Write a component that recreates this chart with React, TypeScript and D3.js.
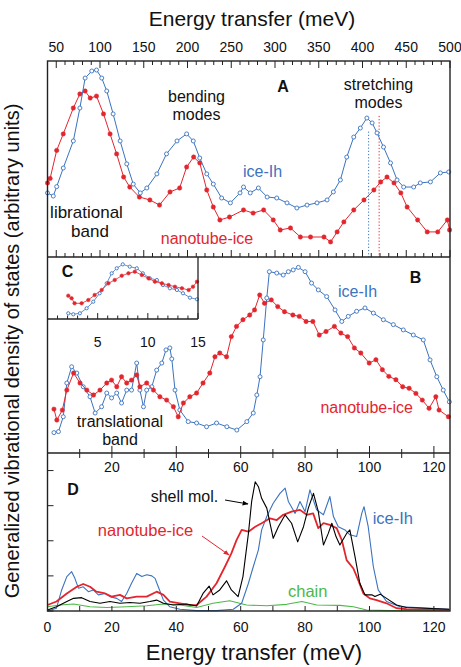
import React from "react";
import * as d3 from "d3";

// ---------- DATA ----------
// Panel A (top axis, 40-500 meV)
const aIceE = [40,46.6,50.5,58,69.5,77,83,90.6,96,102,107.7,115,123,130.6,138,146,153.5,165,176,188,199,206.6,214,222,229.5,239,249,260,264,271.7,281,291,302,313.7,325,336.6,348,359.5,366.7,374.7,382,390,397.5,405,411,416.6,424,432,439.5,447,458.5,466,477.6,489,498.6];
const aIceV = [3.27,3.11,3.59,4.54,5.92,7.6,9.13,9.49,9.54,9.13,8.47,7.3,5.92,4.75,3.72,3.27,3.52,4.24,5.26,5.92,6.28,5.92,5.05,4.24,3.72,3.01,2.76,3.27,3.57,3.27,3.52,3.06,3.01,2.76,2.5,2.65,2.76,2.91,3.32,3.93,5.1,6.12,6.58,7.09,6.84,6.33,5.61,4.8,3.93,3.57,3.57,3.78,3.83,4.29,4.34];
const aNanoE = [40,43,50.5,58,69.5,77,83,88.8,96,104,111.5,119,127,134,145,157,168,180,191,199,207,214,222,229.5,237,248,264,275,287,298,306,317.7,329,340.6,356,363.5,371,378.7,390,401.7,413,420.8,428,436,443.8,451,463,474,486,497,499.5];
const aNanoV = [3.78,4.01,5.44,6.28,7.6,8.32,8.47,8.11,8.21,7.3,6.28,5.26,4.08,3.57,3.06,2.91,2.65,3.32,3.52,4.59,5.1,4.8,3.42,2.55,1.89,2.04,2.4,2.24,2.4,1.89,1.38,1.48,1.02,1.02,1.02,0.77,1.28,1.79,2.4,2.91,3.42,3.83,4.08,3.78,3.27,2.55,1.89,1.28,1.28,1.89,1.38];
const peakE = [407, 419];
const peakV = [6.4, 7.2];

// Panel B (0-125 meV)
const bIceE = [2,3.4,4.9,6,7.5,9.1,11.1,13.2,14.8,16.8,18.4,19.9,21.5,23,24.6,26.1,27.7,28.7,29.8,30.8,32.4,33.9,35.5,36.8,38,38.6,39.6,41.1,43.7,46.3,49.4,52.5,55.7,58.8,61.9,63.9,65,66,67,68.1,68.9,71.2,73.2,74.8,76.3,77.9,80,82,84.1,86.7,89.3,91.4,93.4,96,98.6,101.2,104.3,107.4,110.5,113.6,116.7,118.8,120.9,122.9,124.8];
const bIceV = [1.04,1.09,1.85,3.57,4.4,4.08,3.38,2.87,2.04,2.36,3.06,2.81,3.06,2.55,3.21,3.21,4.59,3.21,2.36,3.21,3.38,4.23,4.59,5.26,5.36,4.8,3.21,2.19,1.6,1.53,1.34,1.53,1.34,1.17,1.6,2.04,2.96,3.89,5.77,7.91,9.25,9.18,9.08,9.25,9.34,9.47,9.25,8.67,8.32,7.98,7.3,6.71,6.97,7.23,7.4,7.14,6.8,6.55,6.28,6.02,5.77,4.75,3.89,3.21,2.61];
const bNanoE = [2,2.9,4.6,6,8.1,10.1,12.2,14.3,16.3,18.4,19.9,21.5,23,24.6,26.1,27.7,28.7,30.8,32.9,34.9,37,39.1,40.6,42.2,44.2,46.3,48.3,50.4,52,53.5,55.6,57.1,58.7,60.7,62.8,64.3,65.9,67.4,69.5,71.5,73.6,76.2,78.2,80.3,82.4,84.4,86.5,89.1,91.1,93.2,95.3,97.3,99.9,102,104,106,108.2,110.3,112.3,114.4,116.4,118.5,120.6,121.6,124.5];
const bNanoV = [2.24,1.68,2.19,3.21,4.08,3.57,3.21,2.96,3.21,3.57,3.72,3.38,3.89,3.57,3.72,3.98,3.38,3.57,3.21,2.87,2.7,2.36,1.85,2.55,2.87,3.06,3.57,4.08,4.91,5.1,4.91,5.94,6.46,6.8,7.04,7.3,8.06,7.64,7.81,7.47,7.21,7.04,6.97,6.71,6.71,6.02,6.2,6.46,6.12,5.94,5.36,5.1,4.59,4.76,4.25,3.91,3.74,3.38,3.3,3.04,2.7,2.28,2.87,2.19,1.85];

// Inset C (0-15 meV)
const cIceE = [2.07,2.57,3.23,3.9,4.56,5.2,5.9,6.4,6.9,7.5,8.2,8.9,9.5,10.2,10.9,11.5,12.2,12.9,13.5,14.2,14.9];
const cIceV = [0.92,0.76,0.92,1.73,2.79,4.15,5.76,7.37,8.18,8.82,8.44,8.18,7.37,6.56,6.29,5.48,4.95,4.68,4.15,3.44,3.18];
const cNanoE = [2.07,2.4,2.7,3.4,4.07,4.7,5.4,6.07,6.7,7.4,8.07,8.7,9.4,10.07,10.7,11.4,12.07,12.7,13.4,14.07,14.5,14.9];
const cNanoV = [3.76,3.34,2.53,2.53,3.06,3.87,4.68,5.76,6.29,6.98,7.37,7.63,7.1,6.56,6.02,5.76,5.48,5.21,4.95,4.68,5.21,6.02];

// Panel D (0-125 meV)
const dIceE = [0,2.8,4.4,6,7.5,8.5,9.6,11.1,12.7,14.2,15.8,17.9,19.4,21.5,23,24.6,26.1,27.7,29.3,30.8,32.4,33.4,34.4,36,38,41.1,46.3,52.5,57.7,60.3,62.4,63.9,65.5,66.5,68.1,70.1,72.2,73.8,74.8,76.9,78.4,80,81.5,83.6,85.7,87.7,88.8,90.3,92.4,93.9,96,97.6,98.3,99.6,101.2,102.7,105.3,109.5,114.7,124.8];
const dIceV = [0,0.08,0.6,0.98,1.12,0.93,0.65,0.69,0.55,0.6,0.46,0.5,0.41,0.36,0.27,0.5,0.79,1.07,0.98,1.03,1,0.93,0.69,0.31,0.12,0.05,0.01,0.01,0.05,0.22,0.79,1.26,1.74,2.31,2.69,3.07,3.35,3.5,3.12,2.78,3.12,2.83,3.45,2.88,2.74,3.26,2.69,2.4,2.31,2.17,2.12,2.78,2.97,2.4,1.26,0.6,0.27,0.12,0.1,0.05];
const dNanoE = [0,2.8,6,9.1,11.1,13.2,15.2,17.9,19.9,22.5,24.6,27.7,30.8,33.9,36,38,41.1,44.2,46.3,49.4,52.5,55.1,57.1,58.7,60.3,62.4,64.5,66.5,69.1,71.2,73.2,75.8,78.4,80.5,82.5,84.1,85.7,87.7,89.8,91.4,92.9,95,96.5,98.1,100.1,102.2,105.3,108.4,111.5,124.8];
const dNanoV = [0.17,0.27,0.5,0.69,0.77,0.69,0.55,0.5,0.41,0.46,0.36,0.41,0.41,0.55,0.46,0.27,0.22,0.17,0.17,0.41,0.79,1.26,1.64,2.02,2.31,2.26,2.4,2.5,2.64,2.59,2.74,2.83,2.88,2.74,2.78,2.36,2.5,2.45,2.36,2.02,1.45,1.21,0.88,0.5,0.36,0.31,0.22,0.08,0.05,0.03];
const dShellE = [0,2.8,6,8.1,10.6,13.2,16.3,19.4,22.5,25.6,28.7,31.8,33.9,36,39.1,43.2,46.3,48.3,50.2,51.4,53.5,55.6,57.1,59.2,60.7,62.4,63.4,64.5,65.5,66.5,68.1,70.1,71.7,73.8,75.8,77.7,79.5,81,82.6,84.1,85.7,87.2,88.3,89.6,90.8,92.9,93.9,95.5,97,98.6,100.7,101.7,103.3,105.3,108.4,111.5,124.8];
const dShellV = [0.03,0.12,0.27,0.36,0.38,0.27,0.22,0.27,0.22,0.24,0.22,0.27,0.31,0.22,0.17,0.2,0.14,0.5,0.71,0.46,0.6,0.86,0.6,0.41,0.98,2.21,3.12,3.68,3.54,3.21,2.93,2.07,2.4,2.74,2.5,1.97,2.4,2.93,3.35,2.83,1.88,2.21,2.5,2.12,1.88,2.21,2.31,1.55,0.79,0.46,0.46,0.41,0.48,0.36,0.17,0.1,0.05];
const dChainE = [0,3.9,8.1,13.2,18.4,24.6,30.8,36,41.1,46.3,51.4,56.6,61.8,68.1,74.3,79,83.6,90.8,95,99.1,106.3,124.8];
const dChainV = [0.12,0.17,0.2,0.12,0.1,0.12,0.15,0.2,0.17,0.1,0.22,0.29,0.17,0.15,0.19,0.27,0.17,0.16,0.12,0.03,0.01,0.01];

const topTicks = [50,100,150,200,250,300,350,400,450,500];
const bottomTicks = [0,20,40,60,80,100,120];
const insetTicks = [5,10,15];
const dYTicks = [0,1,2,3,4];

// ---------- STYLE ----------
const BLUE = "#3b73bf";
const RED = "#e3262e";
const GREEN = "#4db848";
const FONT = "'Liberation Sans', Arial, Helvetica, sans-serif";

const L = 47.5, R = 450;
const A_TOP = 61, A_BOT = 257, B_BOT = 453, D_BOT = 611;
const C_R = 198, C_BOT = 319;

const xTop = d3.scaleLinear().domain([40, 500]).range([L, R]);
const xBot = d3.scaleLinear().domain([0, 125]).range([L, R]);
const xC = d3.scaleLinear().domain([0, 15]).range([L, C_R]);
const yA = d3.scaleLinear().domain([0, 10]).range([A_BOT, A_TOP]);
const yB = d3.scaleLinear().domain([0, 10]).range([B_BOT, A_BOT]);
const yC = d3.scaleLinear().domain([0, 10]).range([C_BOT, A_BOT]);
const yD = d3.scaleLinear().domain([0, 4.5]).range([D_BOT, B_BOT]);

type Sc = d3.ScaleLinear<number, number>;
const zip = (e: number[], v: number[]) => e.map((x, i) => [x, v[i]] as [number, number]);

function Series({ e, v, xs, ys, color, marker, r = 2, sw = 1 }:
  { e: number[]; v: number[]; xs: Sc; ys: Sc; color: string; marker?: "open" | "filled"; r?: number; sw?: number }) {
  const pts = zip(e, v);
  const line = d3.line<[number, number]>().x(d => xs(d[0])).y(d => ys(d[1]));
  return (
    <g>
      <path d={line(pts) || ""} fill="none" stroke={color} strokeWidth={sw} strokeLinejoin="round" />
      {marker && pts.map((p, i) => (
        <circle key={i} cx={xs(p[0])} cy={ys(p[1])} r={r}
          fill={marker === "open" ? "#fff" : color} stroke={color} strokeWidth={marker === "open" ? 0.9 : 0.5} />
      ))}
    </g>
  );
}

function Ticks({ vals, xs, y, len, color = "#222" }: { vals: number[]; xs: Sc; y: number; len: number; color?: string }) {
  return <g>{vals.map((t, i) => <line key={i} x1={xs(t)} x2={xs(t)} y1={y} y2={y + len} stroke={color} strokeWidth={1} />)}</g>;
}

export default function App() {
  const minorTop = d3.range(40, 501, 10).filter(t => t % 50 !== 0);
  const minorBot = d3.range(10, 125, 20);
  const all10 = d3.range(10, 125, 10);
  const insetMinor = d3.range(1, 15, 1).filter(t => t % 5 !== 0);
  return (
    <svg width={461} height={667} style={{ position: "absolute", left: 0, top: 0, background: "#fff" }} fontFamily={FONT}>
      <rect x={0} y={0} width={461} height={667} fill="#fff" />
      {/* titles */}
      <text x={252} y={26} fontSize={21} textAnchor="middle" fill="#111">Energy transfer (meV)</text>
      <text x={254} y={660} fontSize={22} textAnchor="middle" fill="#111">Energy transfer (meV)</text>
      <text transform="translate(19,351) rotate(-90)" fontSize={20} textAnchor="middle" fill="#111">
        Generalized vibrational density of states (arbitrary units)
      </text>

      {/* top axis labels */}
      {topTicks.map(t => <text key={t} x={xTop(t)} y={52} fontSize={14} textAnchor="middle" fill="#111">{t}</text>)}
      <Ticks vals={topTicks} xs={xTop} y={A_TOP} len={7} />
      <Ticks vals={minorTop} xs={xTop} y={A_TOP} len={4} />
      <Ticks vals={topTicks} xs={xTop} y={A_BOT} len={-7} />
      <Ticks vals={minorTop} xs={xTop} y={A_BOT} len={-4} />

      {/* Panel A */}
      {peakE.map((p, i) => (
        <line key={i} x1={xTop(p)} x2={xTop(p)} y1={yA(peakV[i])} y2={A_BOT}
          stroke={i === 0 ? BLUE : RED} strokeWidth={1} strokeDasharray="1.2,2" />
      ))}
      <Series e={aNanoE} v={aNanoV} xs={xTop} ys={yA} color={RED} marker="filled" r={2.2} />
      <Series e={aIceE} v={aIceV} xs={xTop} ys={yA} color={BLUE} marker="open" r={2} />
      <text x={283} y={92} fontSize={16} fontWeight="bold" textAnchor="middle" fill="#111">A</text>
      <text x={196.5} y={102} fontSize={16} textAnchor="middle" fill="#111">bending</text>
      <text x={196.5} y={120} fontSize={16} textAnchor="middle" fill="#111">modes</text>
      <text x={378.5} y={90} fontSize={16} textAnchor="middle" fill="#111">stretching</text>
      <text x={378.5} y={108} fontSize={16} textAnchor="middle" fill="#111">modes</text>
      <text x={262.5} y={177} fontSize={16} textAnchor="middle" fill={BLUE}>ice-Ih</text>
      <text x={86.5} y={218} fontSize={17} textAnchor="middle" fill="#111">librational</text>
      <text x={90} y={237} fontSize={17} textAnchor="middle" fill="#111">band</text>
      <text x={207} y={244} fontSize={16} textAnchor="middle" fill={RED}>nanotube-ice</text>

      {/* Panel B */}
      <Series e={bIceE} v={bIceV} xs={xBot} ys={yB} color={BLUE} marker="open" r={2} />
      <Series e={bNanoE} v={bNanoV} xs={xBot} ys={yB} color={RED} marker="filled" r={2.2} />
      <text x={415.5} y={283} fontSize={16} fontWeight="bold" textAnchor="middle" fill="#111">B</text>
      <text x={357.5} y={297} fontSize={16} textAnchor="middle" fill={BLUE}>ice-Ih</text>
      <text x={366.7} y={413} fontSize={16} textAnchor="middle" fill={RED}>nanotube-ice</text>
      <text x={120} y={427} fontSize={16} textAnchor="middle" fill="#111">translational</text>
      <text x={120} y={445} fontSize={16} textAnchor="middle" fill="#111">band</text>
      <Ticks vals={bottomTicks} xs={xBot} y={B_BOT} len={-7} />
      <Ticks vals={minorBot} xs={xBot} y={B_BOT} len={-4} />

      {/* Inset C */}
      <rect x={L} y={A_BOT} width={C_R - L} height={C_BOT - A_BOT} fill="#fff" />
      <Series e={cIceE} v={cIceV} xs={xC} ys={yC} color={BLUE} marker="open" r={1.6} sw={0.8} />
      <Series e={cNanoE} v={cNanoV} xs={xC} ys={yC} color={RED} marker="filled" r={1.8} sw={0.8} />
      <line x1={C_R} x2={C_R} y1={A_BOT} y2={C_BOT} stroke="#222" strokeWidth={1.3} />
      <line x1={L} x2={C_R} y1={C_BOT} y2={C_BOT} stroke="#222" strokeWidth={1.3} />
      <Ticks vals={insetTicks} xs={xC} y={C_BOT} len={-6} />
      <Ticks vals={insetMinor} xs={xC} y={C_BOT} len={-3.5} />
      {insetTicks.map(t => <text key={t} x={xC(t)} y={347} fontSize={14} textAnchor="middle" fill="#111">{t}</text>)}
      <text x={67.5} y={277} fontSize={16} fontWeight="bold" textAnchor="middle" fill="#111">C</text>

      {/* Panel D */}
      <Series e={dChainE} v={dChainV} xs={xBot} ys={yD} color={GREEN} sw={1.1} />
      <Series e={dIceE} v={dIceV} xs={xBot} ys={yD} color={BLUE} sw={1.1} />
      <Series e={dNanoE} v={dNanoV} xs={xBot} ys={yD} color={RED} sw={1.8} />
      <Series e={dShellE} v={dShellV} xs={xBot} ys={yD} color="#000" sw={1.1} />
      <Ticks vals={all10} xs={xBot} y={B_BOT} len={5} />
      <Ticks vals={all10} xs={xBot} y={D_BOT} len={-5} />
      {bottomTicks.filter(t => t > 0).map(t => <text key={t} x={xBot(t)} y={472} fontSize={14} textAnchor="middle" fill="#111">{t}</text>)}
      {bottomTicks.map(t => <text key={t} x={xBot(t)} y={632} fontSize={14} textAnchor="middle" fill="#111">{t}</text>)}
      {dYTicks.map(t => <line key={t} x1={L} x2={L + 6} y1={yD(t)} y2={yD(t)} stroke="#222" strokeWidth={1} />)}
      <text x={73} y={495} fontSize={16} fontWeight="bold" textAnchor="middle" fill="#111">D</text>
      <text x={150.7} y={502} fontSize={16} fill="#111">shell mol.</text>
      <defs>
        <marker id="ahK" viewBox="0 0 10 10" refX="9" refY="5" markerWidth="6" markerHeight="6" orient="auto">
          <path d="M0,1 L10,5 L0,9 Z" fill="#000" />
        </marker>
        <marker id="ahR" viewBox="0 0 10 10" refX="9" refY="5" markerWidth="6" markerHeight="6" orient="auto">
          <path d="M0,1 L10,5 L0,9 Z" fill={RED} />
        </marker>
      </defs>
      <line x1={225} y1={500} x2={248} y2={504} stroke="#000" strokeWidth={1} markerEnd="url(#ahK)" />
      <text x={145.5} y={536} fontSize={16.5} textAnchor="middle" fill={RED}>nanotube-ice</text>
      <line x1={202} y1={536} x2={229} y2={555} stroke={RED} strokeWidth={1} markerEnd="url(#ahR)" />
      <text x={372.7} y={524} fontSize={16.5} fill={BLUE}>ice-Ih</text>
      <text x={288} y={597} fontSize={16.5} fill={GREEN}>chain</text>

      {/* frame */}
      <rect x={L} y={A_TOP} width={R - L} height={D_BOT - A_TOP} fill="none" stroke="#222" strokeWidth={1.4} />
      <line x1={L} x2={R} y1={A_BOT} y2={A_BOT} stroke="#222" strokeWidth={1.4} />
      <line x1={L} x2={R} y1={B_BOT} y2={B_BOT} stroke="#222" strokeWidth={1.4} />
    </svg>
  );
}
